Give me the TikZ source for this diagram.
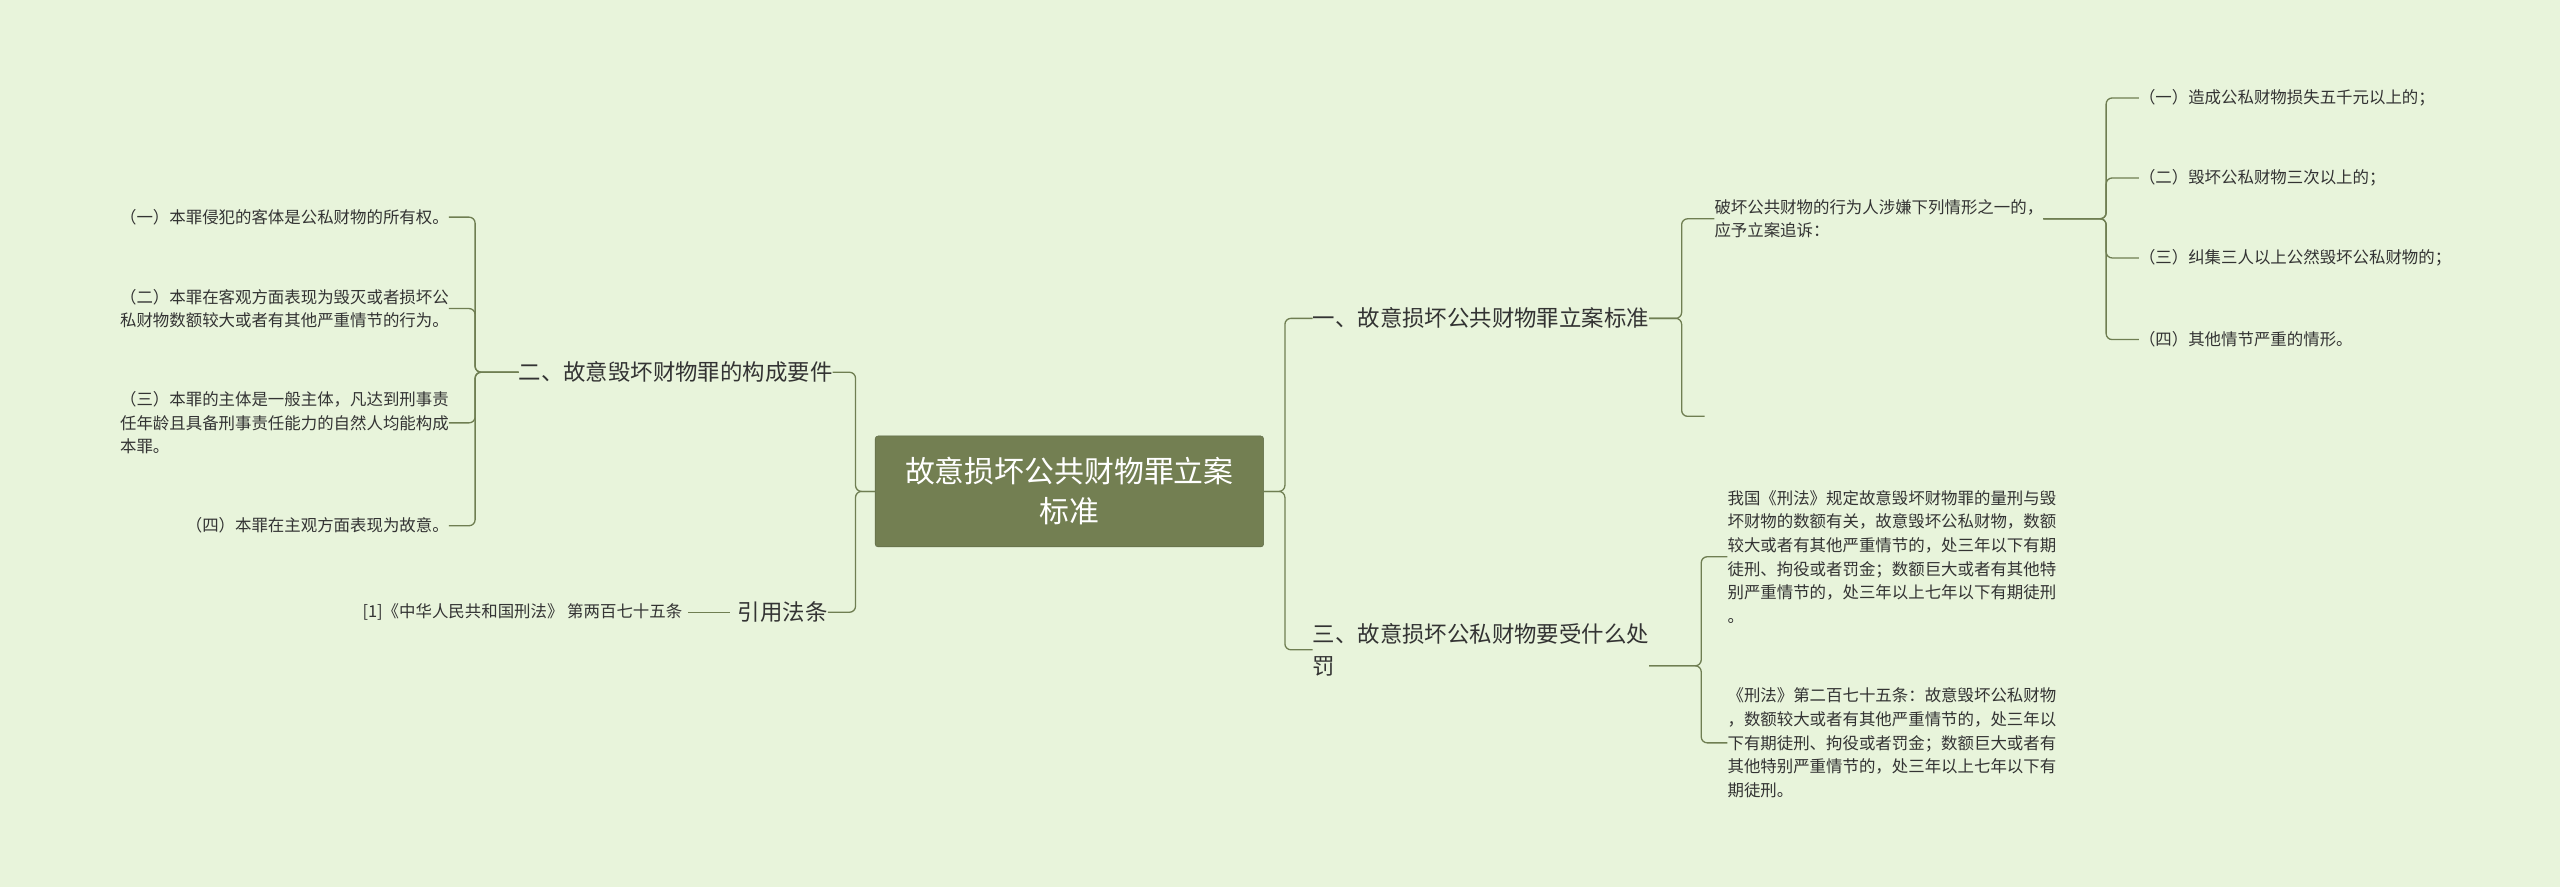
\documentclass[tikz,border=0pt]{standalone}
\usepackage{fontspec}
\setmainfont{Noto Sans CJK SC}
\definecolor{bg}{HTML}{E8F4DB}
\definecolor{ln}{HTML}{6F7E52}
\definecolor{cn}{HTML}{737F52}
\definecolor{tx}{HTML}{333333}
\tikzset{
  conn/.style={draw=ln,line width=1.3bp,rounded corners=6bp},
  small/.style={inner sep=0pt,text=tx,font=\fontsize{16.5}{23.7}\selectfont},
  big/.style={inner sep=0pt,text=tx,font=\fontsize{22.5}{32}\selectfont},
}
\begin{document}
\begin{tikzpicture}[x=1.633bp,y=-1.633bp]
\fill[bg] (0,0) rectangle (1568,543);
\useasboundingbox (0,0) rectangle (1568,543);
% center
\node[fill=cn,draw=ln!80!black,rounded corners=3bp,text=white,minimum width=238*1.633bp,minimum height=68*1.633bp,align=center,inner sep=0pt,font=\fontsize{30}{40}\selectfont] (c) at (655,301) {故意损坏公共财物罪立案\\标准};
% right branches
\node[big,anchor=west] (b1) at (804,195) {一、故意损坏公共财物罪立案标准};
\node[big,anchor=west,align=left] (b3) at (804,398) {三、故意损坏公私财物要受什么处\\罚};
\node[small,anchor=west,align=left] (c1) at (1050,134) {破坏公共财物的行为人涉嫌下列情形之一的，\\应予立案追诉：};
\coordinate (e1) at (1044,255);
\node[small,anchor=west] (i1) at (1310,60) {（一）造成公私财物损失五千元以上的；};
\node[small,anchor=west] (i2) at (1310,109) {（二）毁坏公私财物三次以上的；};
\node[small,anchor=west] (i3) at (1310,158) {（三）纠集三人以上公然毁坏公私财物的；};
\node[small,anchor=west] (i4) at (1310,208) {（四）其他情节严重的情形。};
\node[small,anchor=west,align=left] (p1) at (1058,341) {我国《刑法》规定故意毁坏财物罪的量刑与毁\\坏财物的数额有关，故意毁坏公私财物，数额\\较大或者有其他严重情节的，处三年以下有期\\徒刑、拘役或者罚金；数额巨大或者有其他特\\别严重情节的，处三年以上七年以下有期徒刑\\。};
\node[small,anchor=west,align=left] (p2) at (1058,455) {《刑法》第二百七十五条：故意毁坏公私财物\\，数额较大或者有其他严重情节的，处三年以\\下有期徒刑、拘役或者罚金；数额巨大或者有\\其他特别严重情节的，处三年以上七年以下有\\期徒刑。};
% left branches
\node[big,anchor=east] (b2) at (510,228) {二、故意毁坏财物罪的构成要件};
\node[big,anchor=east] (cite) at (507,375) {引用法条};
\node[small,anchor=east] (ref) at (418,375) {[1]《中华人民共和国刑法》 第两百七十五条};
\node[small,anchor=east] (l1) at (275,133) {（一）本罪侵犯的客体是公私财物的所有权。};
\node[small,anchor=east,align=left] (l2) at (275,189) {（二）本罪在客观方面表现为毁灭或者损坏公\\私财物数额较大或者有其他严重情节的行为。};
\node[small,anchor=east,align=left] (l3) at (275,259) {（三）本罪的主体是一般主体，凡达到刑事责\\任年龄且具备刑事责任能力的自然人均能构成\\本罪。};
\node[small,anchor=east] (l4) at (275,322) {（四）本罪在主观方面表现为故意。};
% junction x
\coordinate (x0) at (787,0);
\coordinate (x1) at (1030,0);
\coordinate (x2) at (1290,0);
\coordinate (x3) at (1042,0);
\coordinate (xl0) at (524,0);
\coordinate (xl1) at (291,0);
\foreach \t in {b1,b3} \draw[conn] (c.east) -- (c.east -| x0) |- (\t.west);
\foreach \t in {c1,e1} \draw[conn] (b1.east) -- ([xshift=8bp]b1.east) -- (b1.east -| x1) |- (\t.west);
\foreach \t in {i1,i2,i3,i4} \draw[conn] (c1.east) -- (c1.east -| x2) |- (\t.west);
\foreach \t in {p1,p2} \draw[conn] ([yshift=-16bp]b3.east) -- ([yshift=-16bp]b3.east -| x3) |- (\t.west);
\foreach \t in {b2,cite} \draw[conn] (c.west) -- (c.west -| xl0) |- (\t.east);
\foreach \t in {l1,l2,l3,l4} \draw[conn] (b2.west) -- (b2.west -| xl1) |- (\t.east);
\draw[conn] ([xshift=6bp]ref.east) -- ([xshift=-8bp]cite.west);
\end{tikzpicture}
\end{document}
